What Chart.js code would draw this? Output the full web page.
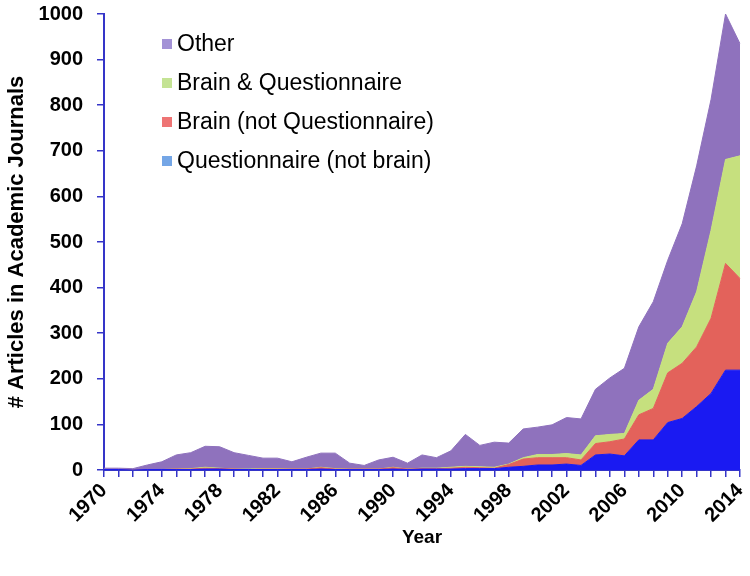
<!DOCTYPE html>
<html>
<head>
<meta charset="utf-8">
<script src="https://cdn.jsdelivr.net/npm/chart.js@4.4.1/dist/chart.umd.min.js"></script>
<style>
  html, body { margin: 0; padding: 0; background: #fff; }
  #wrap { width: 750px; height: 576px; position: relative; }
</style>
</head>
<body>
<div id="wrap"><canvas id="myChart"></canvas></div>
<script>
const years = [];
for (let y = 1970; y <= 2014; y++) years.push(String(y));

// values per series (not stacked)
const questionnaireOnly = [
  1, 1, 0, 1, 1, 1, 1, 2, 2, 1, 1, 1, 1, 1, 1, 2, 1, 1, 1, 1, 2, 1, 2, 2, 2, 3, 3, 3,
  6, 8, 11, 11, 13, 10, 33, 35, 31, 66, 66, 104, 113, 139, 168, 219, 219
];
const brainOnly = [
  0, 0, 0, 0, 0, 1, 1, 2, 1, 1, 0, 1, 1, 1, 1, 3, 1, 1, 1, 1, 3, 1, 1, 1, 2, 3, 2, 1,
  6, 16, 16, 16, 14, 12, 25, 27, 37, 55, 69, 109, 121, 131, 165, 234, 201
];
const brainAndQuestionnaire = [
  0, 0, 0, 0, 0, 0, 1, 2, 1, 0, 1, 1, 1, 0, 0, 1, 1, 0, 0, 0, 1, 0, 1, 1, 2, 2, 2, 2,
  1, 3, 7, 7, 9, 11, 17, 16, 12, 32, 42, 65, 80, 121, 193, 228, 269
];
const other = [
  3, 3, 3, 10, 17, 31, 35, 46, 47, 36, 30, 23, 23, 16, 26, 31, 34, 13, 8, 20, 22, 13, 29, 23, 36, 70, 47, 55,
  46, 63, 60, 65, 79, 79, 102, 124, 143, 161, 192, 182, 226, 276, 287, 319, 246
];

const axisBlue = '#3535c8';
const font = 'Liberation Sans, Arial, sans-serif';

// legend drawn inside the plot, top-left, newest series first
const insideLegend = {
  id: 'insideLegend',
  afterDatasetsDraw(chart) {
    const ctx = chart.ctx;
    const sets = chart.data.datasets.slice().reverse();
    ctx.save();
    ctx.font = '23px ' + font;
    ctx.textBaseline = 'middle';
    ctx.textAlign = 'left';
    sets.forEach((ds, i) => {
      const y = 44 + i * 39;
      ctx.fillStyle = ds.swatchColor;
      ctx.fillRect(162, y - 5, 10, 10);
      ctx.fillStyle = '#000';
      ctx.fillText(ds.label, 177, y + 1);
    });
    ctx.restore();
  }
};

const ctx = document.getElementById('myChart').getContext('2d');
const myChart = new Chart(ctx, {
  type: 'line',
  data: {
    labels: years,
    datasets: [{
      label: 'Questionnaire (not brain)',
      data: questionnaireOnly,
      backgroundColor: '#1a1af2',
      borderColor: '#1a1af2',
      swatchColor: '#74a6e6',
      fill: 'origin'
    }, {
      label: 'Brain (not Questionnaire)',
      data: brainOnly,
      backgroundColor: '#e3625b',
      borderColor: '#e3625b',
      swatchColor: '#ee7474',
      fill: '-1'
    }, {
      label: 'Brain & Questionnaire',
      data: brainAndQuestionnaire,
      backgroundColor: '#c6e07e',
      borderColor: '#c6e07e',
      swatchColor: '#c4e394',
      fill: '-1'
    }, {
      label: 'Other',
      data: other,
      backgroundColor: '#8f72bd',
      borderColor: '#8f72bd',
      swatchColor: '#a392d6',
      fill: '-1'
    }]
  },
  options: {
    responsive: true,
    maintainAspectRatio: false,
    animation: false,
    elements: {
      point: { radius: 0 },
      line: { borderWidth: 1, tension: 0 }
    },
    layout: {
      padding: 0
    },
    plugins: {
      legend: { display: false },
      tooltip: { enabled: false }
    },
    scales: {
      x: {
        offset: false,
        // fixed box so the plot ends at x=740, y=470
        afterFit: s => { s.height = 106; s.paddingRight = 10; s.paddingLeft = 0; },
        grid: { display: true, drawOnChartArea: false, color: axisBlue, tickLength: 7, lineWidth: 1.5 },
        border: { display: true, color: axisBlue, width: 2 },
        ticks: {
          autoSkip: false,
          maxRotation: 45,
          minRotation: 45,
          padding: 2,
          color: '#000',
          font: { family: font, size: 20, weight: 'bold' },
          callback: function (value) {
            const yr = Number(this.getLabelForValue(value));
            return (yr - 1970) % 4 === 0 ? String(yr) : '';
          }
        },
        title: {
          display: true,
          text: 'Year',
          color: '#000',
          font: { family: font, size: 19, weight: 'bold' },
          padding: { top: 0, bottom: 27 }
        }
      },
      y: {
        stacked: true,
        min: 0,
        max: 1000,
        afterFit: s => { s.width = 104; s.paddingTop = 14; s.paddingBottom = 0; },
        grid: { display: true, drawOnChartArea: false, color: axisBlue, tickLength: 7, lineWidth: 1.5 },
        border: { display: true, color: axisBlue, width: 2 },
        ticks: {
          stepSize: 100,
          padding: 14,
          color: '#000',
          font: { family: font, size: 20, weight: 'bold' },
          callback: value => String(value)
        },
        title: {
          display: true,
          text: '# Articles in Academic Journals',
          color: '#000',
          font: { family: font, size: 22, weight: 'bold' },
          padding: { top: 4, bottom: 0 }
        }
      }
    }
  },
  plugins: [insideLegend]
});
</script>
</body>
</html>
